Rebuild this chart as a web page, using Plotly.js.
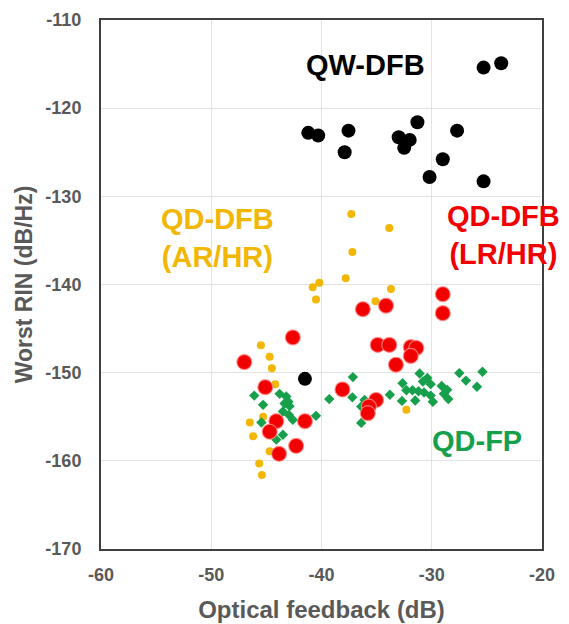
<!DOCTYPE html>
<html>
<head>
<meta charset="utf-8">
<script src="https://cdn.plot.ly/plotly-3.0.1.min.js"></script>
<style>html,body{margin:0;padding:0;background:#fff;}#chart{width:569px;height:624px;}</style>
</head>
<body>
<div id="chart"></div>
<script>
// QW-DFB (black)
const qwDfbX = [-25.3, -23.7, -41.2, -40.3, -37.55, -37.9, -33.0, -32.0, -32.5, -31.3, -27.7, -29.0, -30.2, -25.3, -41.5];
const qwDfbY = [-115.4, -114.9, -122.8, -123.1, -122.55, -125.0, -123.3, -123.6, -124.5, -121.6, -122.55, -125.8, -127.8, -128.3, -150.7];

// QD-DFB (AR/HR) (yellow)
const arHrX = [-37.3, -33.85, -37.2, -37.8, -40.2, -40.8, -40.5, -33.7, -35.1, -45.5, -44.7, -44.5, -44.2, -46.5, -46.2, -45.3, -44.7, -45.65, -45.4, -32.3];
const arHrY = [-132.0, -133.6, -136.3, -139.3, -139.8, -140.3, -141.7, -140.5, -141.9, -146.9, -148.2, -149.5, -151.3, -155.65, -157.2, -155.0, -158.9, -160.3, -161.6, -154.2];

// QD-DFB (LR/HR) (red)
const lrHrX = [-36.25, -34.15, -42.6, -47.0, -34.9, -33.85, -29.0, -29.0, -31.9, -31.4, -31.9, -33.25, -38.1, -35.05, -35.7, -35.8, -45.1, -44.1, -44.7, -41.5, -42.3, -43.85];
const lrHrY = [-142.8, -142.4, -146.0, -148.8, -146.85, -146.85, -141.1, -143.25, -147.1, -147.2, -148.1, -149.1, -151.9, -153.1, -153.85, -154.6, -151.65, -155.5, -156.7, -155.5, -158.3, -159.2];

// QD-FP (green)
const qdFpX = [-46.1, -45.3, -43.8, -43.2, -43.35, -42.9, -43.5, -42.95, -42.6, -40.5, -45.45, -43.5, -44.1, -43.0,
  -37.15, -39.3, -37.2, -36.1, -36.4, -36.4, -33.8, -32.7, -32.65, -32.3,
  -31.1, -30.4, -30.1, -30.8, -31.75, -31.2, -30.7, -30.1, -31.5, -29.9, -29.1, -28.6, -28.9, -28.5, -27.5, -26.9, -25.9, -25.4];
const qdFpY = [-152.6, -153.65, -152.4, -152.7, -153.5, -153.8, -154.4, -154.8, -155.35, -154.9, -155.65, -157.05, -157.6, -153.3,
  -150.5, -153.0, -152.8, -153.1, -153.85, -155.7, -152.5, -153.2, -151.2, -152.0,
  -150.1, -150.6, -151.3, -151.0, -152.0, -152.1, -152.25, -152.6, -153.15, -153.3, -151.5, -151.95, -152.4, -153.0, -150.05, -150.9, -151.6, -149.9];

const xTicks = [-60, -50, -40, -30, -20];
const yTicks = [-170, -160, -150, -140, -130, -120, -110];

const font = "Liberation Sans, Arial, sans-serif";
const gray = "#595959";

const traces = [
  {x: arHrX, y: arHrY, mode: "markers", type: "scatter",
   marker: {size: 8, color: "#F2B705", line: {width: 0}}},
  {x: qdFpX, y: qdFpY, mode: "markers", type: "scatter",
   marker: {size: 8, symbol: "diamond", color: "#17A04C", line: {width: 0}}},
  {x: lrHrX, y: lrHrY, mode: "markers", type: "scatter",
   marker: {size: 15, color: "#F20000", line: {width: 1.2, color: "rgba(255,140,140,0.8)"}}},
  {x: qwDfbX, y: qwDfbY, mode: "markers", type: "scatter",
   marker: {size: 14, color: "#000000", line: {width: 0}}}
];

const layout = {
  width: 569, height: 624,
  margin: {l: 101, r: 27, t: 20, b: 75},
  paper_bgcolor: "#ffffff", plot_bgcolor: "#ffffff",
  showlegend: false,
  font: {family: font, color: gray},
  xaxis: {
    range: [-60, -20], tickvals: xTicks, ticktext: xTicks.map(String),
    showgrid: true, gridcolor: "#e3e3e3", gridwidth: 1, zeroline: false,
    showline: true, linecolor: "#404040", linewidth: 2, mirror: true,
    ticks: "", ticklabelstandoff: 8,
    tickfont: {family: font, size: 18, color: gray, weight: "bold"},
    title: {text: "<b>Optical feedback (dB)</b>", font: {family: font, size: 24, color: gray}, standoff: 18}
  },
  yaxis: {
    range: [-170, -110], tickvals: yTicks, ticktext: yTicks.map(String),
    showgrid: true, gridcolor: "#e3e3e3", gridwidth: 1, zeroline: false,
    showline: true, linecolor: "#404040", linewidth: 2, mirror: true,
    ticks: "", ticklabelstandoff: 14,
    tickfont: {family: font, size: 18, color: gray, weight: "bold"},
    title: {text: "<b>Worst RIN (dB/Hz)</b>", font: {family: font, size: 23, color: gray}, standoff: 6}
  },
  annotations: [
    {x: -36.0, y: -115.1, xref: "x", yref: "y", text: "<b>QW-DFB</b>", showarrow: false,
     font: {family: font, size: 29, color: "#000000"}},
    {x: -49.4, y: -134.7, xref: "x", yref: "y", text: "<b>QD-DFB<br>(AR/HR)</b>", showarrow: false,
     font: {family: font, size: 29, color: "#F2B705"}},
    {x: -23.5, y: -134.4, xref: "x", yref: "y", text: "<b>QD-DFB<br>(LR/HR)</b>", showarrow: false,
     font: {family: font, size: 29, color: "#F20000"}},
    {x: -25.9, y: -157.8, xref: "x", yref: "y", text: "<b>QD-FP</b>", showarrow: false,
     font: {family: font, size: 29, color: "#17A04C"}}
  ]
};

Plotly.newPlot("chart", traces, layout, {displayModeBar: false, staticPlot: true});
</script>
</body>
</html>
